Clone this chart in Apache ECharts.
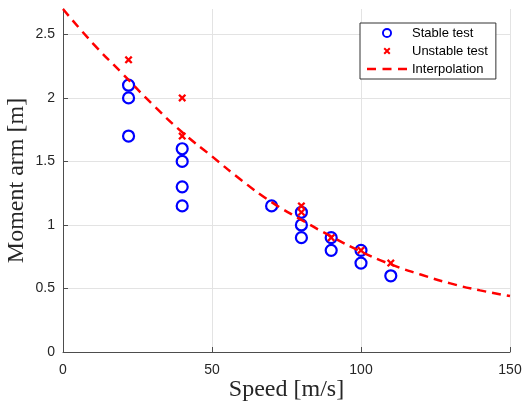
<!DOCTYPE html>
<html>
<head>
<meta charset="utf-8">
<script src="https://cdn.jsdelivr.net/npm/echarts@6/dist/echarts.min.js"></script>
<style>html,body{margin:0;padding:0;background:#fff}#c{width:522px;height:405px}</style>
</head>
<body>
<div id="c"></div>
<script>
// Stable test (blue circles)
var stableX = [22, 22, 22, 40, 40, 40, 40, 70, 80, 80, 80, 90, 90, 100, 100, 110];
var stableY = [2.1, 2.0, 1.7, 1.6, 1.5, 1.3, 1.15, 1.15, 1.1, 1.0, 0.9, 0.9, 0.8, 0.8, 0.7, 0.6];
// Unstable test (red crosses)
var unstableX = [22, 40, 40, 80, 80, 90, 100, 110];
var unstableY = [2.3, 2.0, 1.7, 1.15, 1.1, 0.9, 0.8, 0.7];
// Interpolation curve
var interpX = [0, 10, 20, 30, 40, 50, 60, 70, 80, 90, 100, 110, 120, 130, 140, 150];
var interpY = [2.70, 2.43, 2.19, 1.95, 1.73, 1.54, 1.35, 1.18, 1.04, 0.91, 0.79, 0.69, 0.61, 0.54, 0.485, 0.44];
// Ticks
var yTickValues = [0, 0.5, 1, 1.5, 2, 2.5];
var yGridValues = [0.5, 1, 1.5, 2, 2.5];

function pairs(xs, ys) { return xs.map(function (x, i) { return [x, ys[i]]; }); }

var crossPath = 'path://M0,2 L2,0 L5,3 L8,0 L10,2 L7,5 L10,8 L8,10 L5,7 L2,10 L0,8 L3,5 Z';
// legend icons drawn inside a 46x14 box (tiny corner marks keep the box size)
var corners = 'M0,0 h0.05 v0.05 h-0.05 Z M45.95,13.95 h0.05 v0.05 h-0.05 Z ';
var ringIcon = 'path://' + corners +
  'M18,7 A5,5 0 1,0 28,7 A5,5 0 1,0 18,7 Z M19.9,7 A3.1,3.1 0 1,1 26.1,7 A3.1,3.1 0 1,1 19.9,7 Z';
var crossIcon = 'path://' + corners +
  'M19.5,4.9 L20.9,3.5 L23,5.6 L25.1,3.5 L26.5,4.9 L24.4,7 L26.5,9.1 L25.1,10.5 L23,8.4 L20.9,10.5 L19.5,9.1 L21.6,7 Z';
var dashIcon = 'path://' + corners +
  'M3,5.8 H12 V8.2 H3 Z M18.5,5.8 H27.5 V8.2 H18.5 Z M34,5.8 H43 V8.2 H34 Z';

var tickFont = { color: '#262626', fontSize: 14, fontFamily: 'Liberation Sans, Arial, sans-serif' };
var titleFont = { fontSize: 24, color: '#262626', fontFamily: 'Liberation Serif, DejaVu Serif, serif' };

var chart = echarts.init(document.getElementById('c'), null, { renderer: 'canvas' });
chart.setOption({
  animation: false,
  backgroundColor: '#ffffff',
  grid: { left: 63, right: 12, top: 9, bottom: 53, containLabel: false, outerBoundsMode: 'none' },
  legend: {
    orient: 'vertical',
    left: 360, top: 23, z: 10,
    backgroundColor: '#ffffff',
    borderColor: '#333333', borderWidth: 1, borderRadius: 0,
    padding: [3, 8, 3, 4],
    itemGap: 4, itemWidth: 46, itemHeight: 14,
    textStyle: { fontSize: 13, color: '#000', fontFamily: 'Liberation Sans, Arial, sans-serif', padding: [0, 0, 0, -3] },
    data: [
      { name: 'Stable test', icon: ringIcon, itemStyle: { color: '#0000ff', borderWidth: 0, opacity: 1 } },
      { name: 'Unstable test', icon: crossIcon, itemStyle: { color: '#ff0000', borderWidth: 0, opacity: 1 } },
      { name: 'Interpolation', icon: dashIcon, itemStyle: { color: '#ff0000', borderWidth: 0, opacity: 1 } }
    ]
  },
  xAxis: {
    type: 'value', min: 0, max: 150, interval: 50,
    name: 'Speed [m/s]', nameLocation: 'middle', nameGap: 26, nameMoveOverlap: false,
    nameTextStyle: titleFont,
    axisLine: { show: true, onZero: false, lineStyle: { color: '#4d4d4d', width: 1 } },
    axisTick: { show: true, inside: true, length: 5, lineStyle: { color: '#4d4d4d' } },
    axisLabel: Object.assign({ margin: 11 }, tickFont),
    splitLine: { show: true, lineStyle: { color: '#e3e3e3', width: 1 } }
  },
  yAxis: {
    type: 'value', min: 0, max: 2.7, interval: 0.5,
    name: 'Moment arm [m]', nameLocation: 'middle', nameGap: 34, nameMoveOverlap: false,
    nameTextStyle: titleFont,
    axisLine: { show: true, onZero: false, lineStyle: { color: '#4d4d4d', width: 1 } },
    axisTick: { show: true, inside: true, length: 5, lineStyle: { color: '#4d4d4d' },
      customValues: yTickValues },
    axisLabel: Object.assign({ margin: 8, customValues: yTickValues,
      formatter: function (v) { return String(v); } }, tickFont),
    splitLine: { show: false }
  },
  series: [
    {
      name: 'grid', type: 'line', data: [], z: 0, silent: true,
      markLine: {
        silent: true, z: 0, symbol: ['none', 'none'], label: { show: false },
        lineStyle: { color: '#e3e3e3', width: 1, type: 'solid' },
        emphasis: { disabled: true },
        animation: false,
        data: yGridValues.map(function (v) { return { yAxis: v }; })
      }
    },
    {
      name: 'Stable test', type: 'scatter', z: 3,
      data: pairs(stableX, stableY),
      symbol: 'circle', symbolSize: 11,
      itemStyle: { color: 'rgba(0,0,0,0)', borderColor: '#0000ff', borderWidth: 2.2, opacity: 1 }
    },
    {
      name: 'Unstable test', type: 'scatter', z: 4,
      data: pairs(unstableX, unstableY),
      symbol: crossPath, symbolSize: 8,
      itemStyle: { color: '#ff0000', opacity: 1 }
    },
    {
      name: 'Interpolation', type: 'line', z: 5,
      data: pairs(interpX, interpY),
      smooth: true, showSymbol: false, symbol: 'none',
      lineStyle: { color: '#ff0000', width: 2.5, type: [9, 6] },
      itemStyle: { color: '#ff0000' }
    }
  ]
});
</script>
</body>
</html>
